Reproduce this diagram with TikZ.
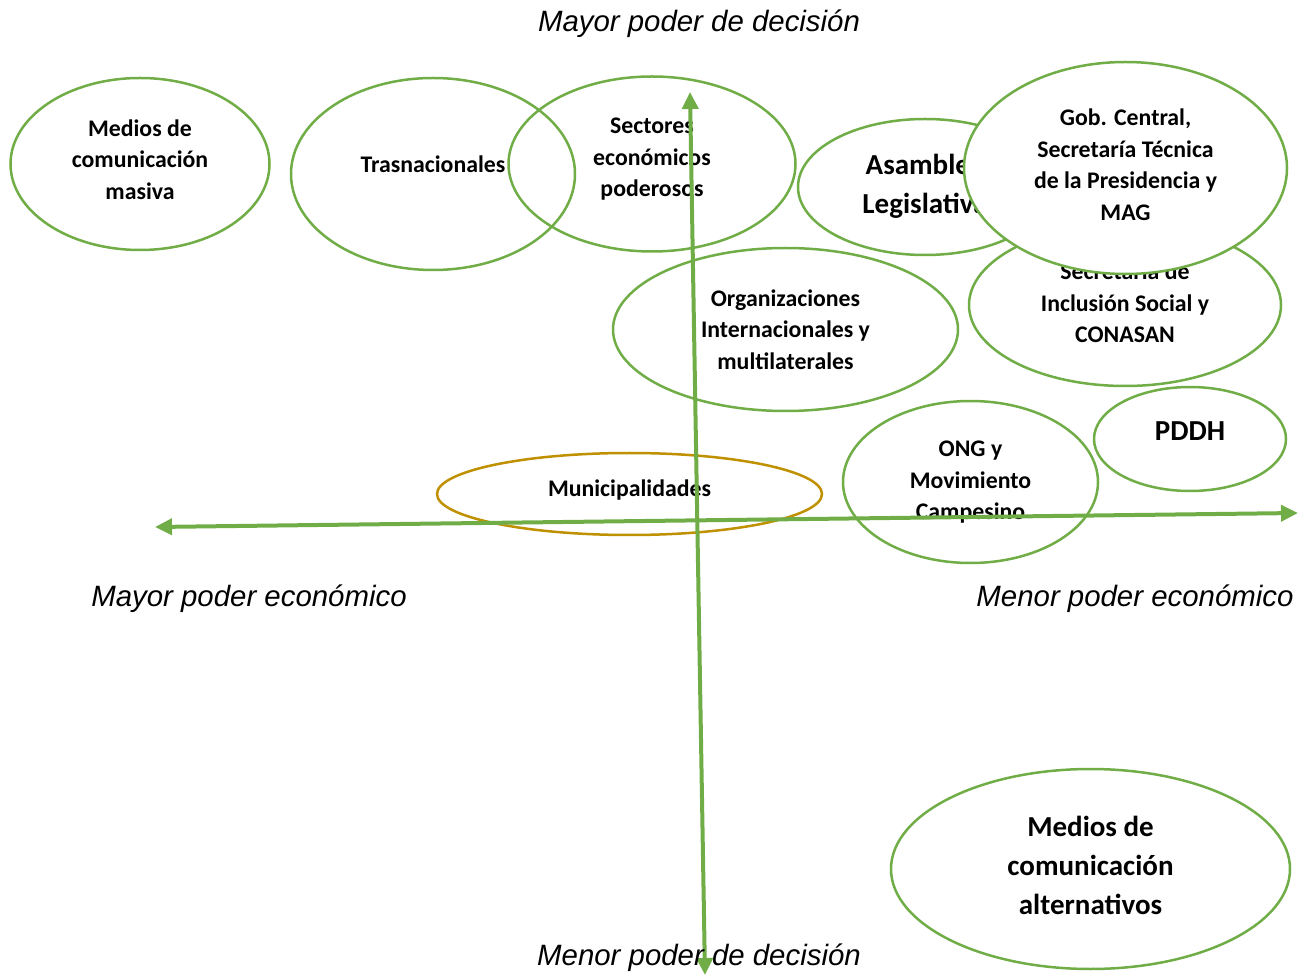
\documentclass[tikz,border=0pt]{standalone}
\usepackage{fontspec}
\setmainfont{Carlito}
\newfontfamily\axisfont{Liberation Sans}
\usetikzlibrary{shapes.geometric,arrows.meta}
\definecolor{leaf}{HTML}{70AD47}
\definecolor{ochre}{HTML}{BF9000}

\tikzset{
  ring/.style={ellipse, draw=leaf, line width=1.25pt, inner sep=0pt},
  radii/.style 2 args={minimum width=#1pt, minimum height=#2pt},
  tag/.style={inner sep=0pt, align=center, font=\fontsize{11.9}{15.75}\selectfont\bfseries},
  bigtag/.style={tag, font=\fontsize{14.5}{19.5}\selectfont\bfseries},
  axis/.style={leaf, line width=2pt,
    {Triangle[length=8.5pt,width=8pt]}-{Triangle[length=8.5pt,width=8pt]}},
  axislabel/.style={font=\fontsize{14.7}{17}\selectfont\axisfont\itshape}
}

\begin{document}
\begin{tikzpicture}[x=0.5pt, y=-0.5pt]
  \useasboundingbox (0,0) rectangle (1307,978);

  % actors
  \node[ring, radii={129.5}{86}] (masivaE) at (140,164) {};
  \node[tag] (masiva) at (140,159.5) {Medios de\\comunicación\\masiva};
  \node[ring, radii={142}{96}] (trasnacE) at (433,174) {};
  \node[tag] (trasnac) at (433,164) {Trasnacionales};
  \node[ring, radii={143.5}{87.5}] (sectoresE) at (652,164) {};
  \node[tag] (sectores) at (652,159.5) {Sectores\\económicos\\poderosos};
  \node[ring, fill=white, radii={127}{68}] (asambleaE) at (925,187) {};
  \node[bigtag] (asamblea) at (925,186.5) {Asamblea\\Legislativa};
  \node[ring, fill=white, radii={156}{81}] (sisE) at (1125,305) {};
  \node[tag] (sis) at (1125,303) {Secretaría de\\Inclusión Social y\\CONASAN};
  \node[ring, fill=white, radii={161.5}{106}] (gobE) at (1125.5,168) {};
  \node[tag] (gob) at (1125.5,164.5) {Gob. Central,\\Secretaría Técnica\\de la Presidencia y\\MAG};
  \node[ring, radii={172.5}{81.5}] (orgE) at (785.5,329.5) {};
  \node[tag] (org) at (785.5,329.5) {Organizaciones\\Internacionales y\\multilaterales};
  \node[ring, radii={96}{52}] (pddhE) at (1190,439) {};
  \node[bigtag] (pddh) at (1190,431) {PDDH};
  \node[ring, radii={127.5}{81}] (ongE) at (970.5,482) {};
  \node[tag] (ong) at (970.5,482.5) {ONG y\\Movimiento\\Campesino};
  \node[ring, draw=ochre, radii={192.5}{41}] (muniE) at (629.5,494) {};
  \node[tag] (muni) at (629.5,490) {Municipalidades};
  \node[ring, radii={199.5}{100}] (alterE) at (1090.5,869) {};
  \node[bigtag] (alter) at (1090.5,865.5) {Medios de\\comunicación\\alternativos};

  % axes
  \coordinate (west) at (155,527);
  \coordinate (east) at (1298,513);
  \coordinate (north) at (690,92);
  \coordinate (south) at (705,975);
  \draw[axis] (west) -- (east);
  \draw[axis] (north) -- (south);

  \node[axislabel] (top) at (699,24) {Mayor poder de decisión};
  \node[axislabel] (bottom) at (699,958) {Menor poder de decisión};
  \node[axislabel] (left) at (249,599) {Mayor poder económico};
  \node[axislabel] (right) at (1135,599) {Menor poder económico};
\end{tikzpicture}
\end{document}
